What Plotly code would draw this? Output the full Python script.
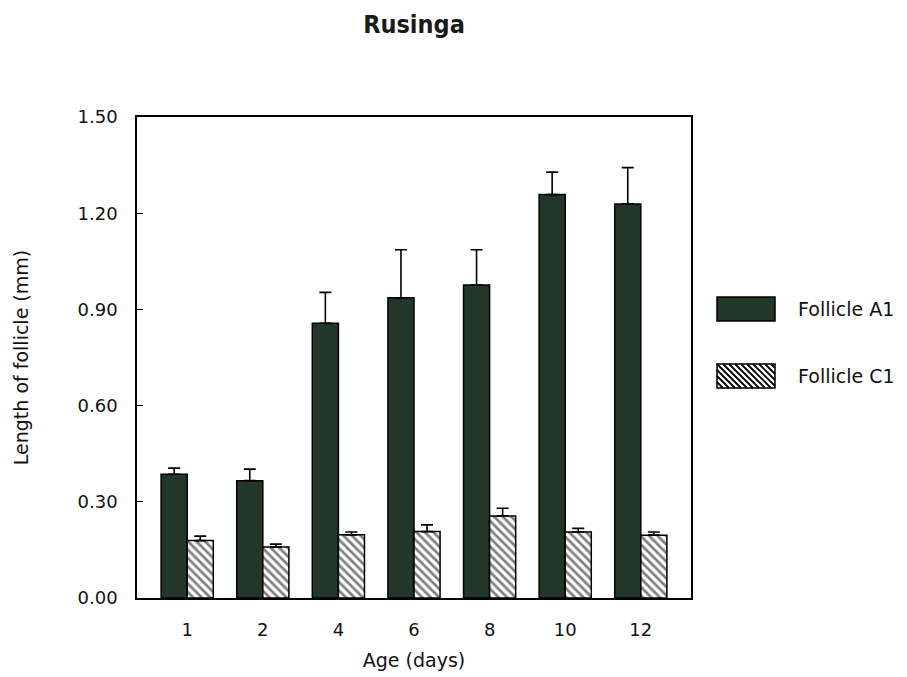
import plotly.graph_objects as go

# Follicle length by age, Rusinga population
ages = ["1", "2", "4", "6", "8", "10", "12"]
a1_mean = [0.386, 0.366, 0.857, 0.936, 0.976, 1.258, 1.229]
a1_err = [0.019, 0.036, 0.096, 0.150, 0.110, 0.070, 0.113]
c1_mean = [0.179, 0.159, 0.197, 0.207, 0.256, 0.206, 0.196]
c1_err = [0.014, 0.009, 0.009, 0.021, 0.024, 0.011, 0.010]
y_ticks = [0.0, 0.3, 0.6, 0.9, 1.2, 1.5]
series_names = ["Follicle A1", "Follicle C1"]

W, H = 907, 677
ML, MR, MT, MB = 137, 216, 117, 79
PW, PH = W - ML - MR, H - MT - MB

DARK = "#22362a"
FONT = "DejaVu Sans"

fig = go.Figure()
fig.add_trace(go.Bar(
    x=ages, y=a1_mean, name=series_names[0],
    marker=dict(color=DARK, line=dict(color="black", width=1.5)),
    error_y=dict(type="data", array=a1_err, arrayminus=[0] * len(a1_err),
                 symmetric=False, color="black", thickness=1.6, width=6),
    showlegend=False,
))
fig.add_trace(go.Bar(
    x=ages, y=c1_mean, name=series_names[1],
    marker=dict(color="white", line=dict(color="black", width=1.5),
                pattern=dict(shape="\\", fgcolor="black", bgcolor="white",
                             size=6, solidity=0.45)),
    error_y=dict(type="data", array=c1_err, arrayminus=[0] * len(c1_err),
                 symmetric=False, color="black", thickness=1.6, width=6),
    showlegend=False,
))


def px_to_paper(x, y):
    return (x - ML) / PW, (H - MB - y) / PH


# Legend swatches drawn as shapes to the right of the plot
shapes = []
ax0, ax1 = 717, 775
rows = [(297, 321), (364, 388)]

# solid swatch
x0, y0 = px_to_paper(ax0, rows[0][0])
x1, y1 = px_to_paper(ax1, rows[0][1])
shapes.append(dict(type="rect", xref="paper", yref="paper", x0=x0, y0=y0, x1=x1, y1=y1,
                   fillcolor=DARK, line=dict(color="black", width=1.5)))

# hatched swatch: "\" lines clipped to the box
top, bot = rows[1]
hgt = bot - top
step = 6
start = ax0 - hgt
while start < ax1:
    sx, sy = start, top
    ex, ey = start + hgt, bot
    if sx < ax0:
        sy = top + (ax0 - sx)
        sx = ax0
    if ex > ax1:
        ey = bot - (ex - ax1)
        ex = ax1
    if ex > sx:
        p0 = px_to_paper(sx, sy)
        p1 = px_to_paper(ex, ey)
        shapes.append(dict(type="line", xref="paper", yref="paper",
                           x0=p0[0], y0=p0[1], x1=p1[0], y1=p1[1],
                           line=dict(color="black", width=1.8)))
    start += step
x0, y0 = px_to_paper(ax0, top)
x1, y1 = px_to_paper(ax1, bot)
shapes.append(dict(type="rect", xref="paper", yref="paper", x0=x0, y0=y0, x1=x1, y1=y1,
                   fillcolor="rgba(0,0,0,0)", line=dict(color="black", width=1.5)))

annotations = []
for name, (t, b) in zip(series_names, rows):
    ax, ay = px_to_paper(796, (t + b) / 2)
    annotations.append(dict(text=name, xref="paper", yref="paper", x=ax, y=ay,
                            xanchor="left", yanchor="middle", showarrow=False,
                            font=dict(family=FONT, size=19, color="#111")))

fig.update_layout(
    width=W, height=H,
    margin=dict(l=ML, r=MR, t=MT, b=MB, autoexpand=False),
    paper_bgcolor="white", plot_bgcolor="white",
    barmode="group", bargap=0.31, bargroupgap=0,
    title=dict(text="<b>Rusinga</b>", x=(ML + PW / 2) / W, xanchor="center",
               y=1 - 24 / H, yanchor="middle",
               font=dict(family="DejaVu Sans Condensed, DejaVu Sans, sans-serif",
                         size=25, color="#1a1a1a")),
    font=dict(family=FONT, size=18, color="#111"),
    shapes=shapes, annotations=annotations,
    xaxis=dict(type="category", range=[-0.664, 6.664], showgrid=False,
               showline=True, linecolor="black", linewidth=1.5, mirror=True,
               ticks="", ticklabelstandoff=15, automargin=False,
               title=dict(text="Age (days)", standoff=14, font=dict(size=19))),
    yaxis=dict(range=[0, 1.5], tickvals=y_ticks, tickformat=".2f", showgrid=False,
               zeroline=False, showline=True, linecolor="black", linewidth=1.5,
               mirror=True, ticks="inside", ticklen=6, tickcolor="black",
               ticklabelstandoff=14, automargin=False,
               title=dict(text="Length of follicle (mm)", standoff=44, font=dict(size=19))),
)

fig.write_html("out.html")
